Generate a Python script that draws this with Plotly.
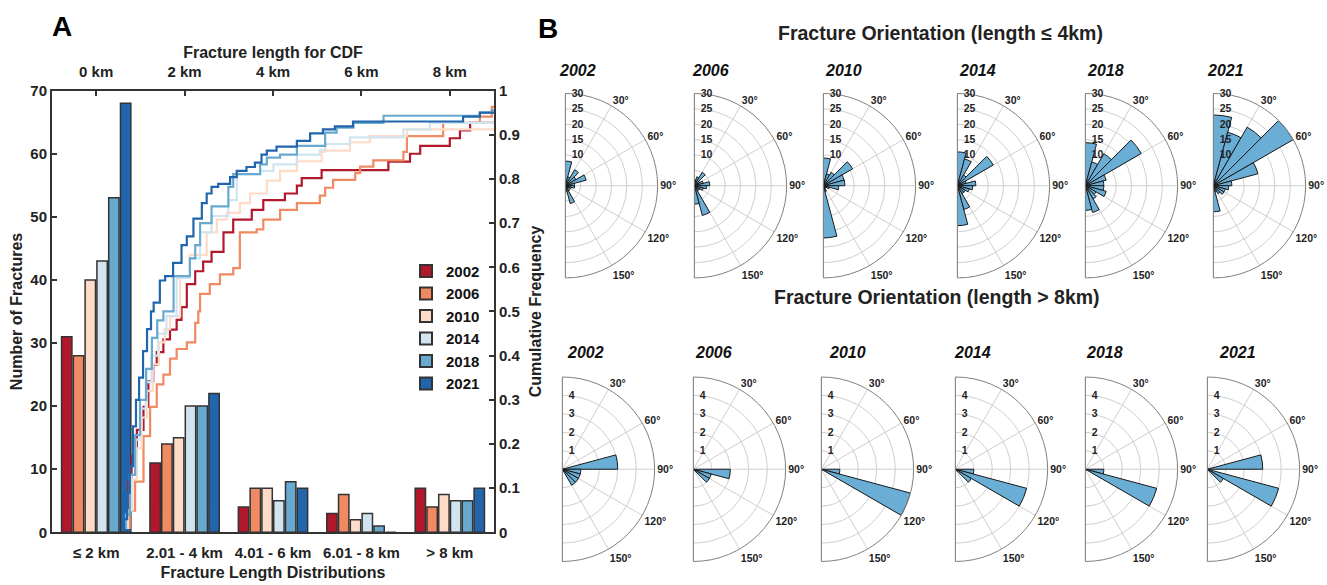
import plotly.graph_objects as go

W, H = 1327, 585
FONT = "Liberation Sans, Arial, sans-serif"

# ---------------- Panel A data ----------------
years = ['2002', '2006', '2010', '2014', '2018', '2021']
colors = ['#b2182b', '#ef8a62', '#fddbc7', '#d1e5f0', '#67a9cf', '#2166ac']
length_bins = ['≤ 2 km', '2.01 - 4 km', '4.01 - 6 km', '6.01 - 8 km', '> 8 km']
counts = {
    '2002': [31, 11, 4, 3, 7],
    '2006': [28, 14, 7, 6, 4],
    '2010': [40, 15, 7, 2, 6],
    '2014': [43, 20, 5, 3, 5],
    '2018': [53, 20, 8, 1, 5],
    '2021': [68, 22, 7, 0, 7],
}

# CDF step breakpoints (length km, cumulative frequency)
cdf_x_2002 = [0.61, 0.73, 0.80, 0.92, 1.07, 1.18, 1.29, 1.37, 1.52, 1.67, 1.82, 1.93, 2.05, 2.24, 2.42, 2.61,
              2.88, 3.10, 3.52, 3.78, 4.27, 4.54, 4.65, 5.10, 6.61, 7.10, 7.33, 8.00, 8.23, 8.46, 9.0]
cdf_y_2002 = [0.01, 0.115, 0.174, 0.232, 0.284, 0.342, 0.379, 0.408, 0.437, 0.459, 0.481, 0.51, 0.562, 0.591,
              0.613, 0.635, 0.679, 0.708, 0.730, 0.752, 0.767, 0.785, 0.802, 0.820, 0.839, 0.857, 0.875, 0.892,
              0.910, 0.927, 0.927]
cdf_x_2006 = [0.73, 0.76, 0.88, 1.07, 1.22, 1.37, 1.52, 1.67, 1.82, 2.05, 2.24, 2.31, 2.35, 2.57, 2.80, 3.10,
              3.25, 3.63, 3.78, 4.16, 4.54, 5.06, 5.18, 5.36, 5.86, 5.97, 6.27, 6.95, 7.03, 7.85, 8.68, 8.95, 9.0]
cdf_y_2006 = [0.01, 0.049, 0.115, 0.218, 0.284, 0.335, 0.357, 0.393, 0.415, 0.43, 0.474, 0.50, 0.54, 0.562,
              0.584, 0.598, 0.679, 0.686, 0.708, 0.730, 0.745, 0.762, 0.78, 0.798, 0.813, 0.828, 0.842, 0.861,
              0.897, 0.927, 0.941, 0.963, 0.963]
cdf_x_2010 = [0.65, 0.72, 0.82, 0.92, 1.03, 1.15, 1.28, 1.42, 1.55, 1.67, 1.90, 2.12, 2.50, 2.73, 2.95, 3.25,
              3.48, 3.86, 4.16, 4.54, 5.10, 5.18, 5.74, 6.19, 7.03, 9.0]
cdf_y_2010 = [0.01, 0.05, 0.12, 0.19, 0.26, 0.32, 0.38, 0.43, 0.46, 0.489, 0.576, 0.628, 0.679, 0.708, 0.723,
              0.745, 0.767, 0.796, 0.818, 0.840, 0.861, 0.864, 0.883, 0.897, 0.912, 0.912]
cdf_x_2014 = [0.63, 0.70, 0.80, 0.90, 1.00, 1.12, 1.25, 1.40, 1.59, 1.82, 2.12, 2.35, 2.61, 2.99, 3.18, 3.71,
              4.01, 4.54, 5.06, 5.18, 5.74, 6.95, 7.55, 9.0]
cdf_y_2014 = [0.01, 0.05, 0.13, 0.21, 0.28, 0.34, 0.40, 0.45, 0.49, 0.576, 0.62, 0.679, 0.716, 0.752, 0.811,
              0.818, 0.833, 0.855, 0.866, 0.879, 0.894, 0.912, 0.927, 0.927]
cdf_x_2018 = [0.61, 0.67, 0.76, 0.88, 0.99, 1.13, 1.26, 1.38, 1.52, 1.75, 2.12, 2.24, 2.35, 2.61, 2.99, 3.10,
              3.71, 3.86, 4.16, 4.54, 5.18, 5.44, 5.82, 6.50, 8.68, 8.95, 9.0]
cdf_y_2018 = [0.01, 0.04, 0.13, 0.22, 0.30, 0.37, 0.44, 0.48, 0.50, 0.58, 0.62, 0.65, 0.70, 0.738, 0.782,
              0.811, 0.833, 0.848, 0.855, 0.875, 0.905, 0.916, 0.927, 0.943, 0.950, 0.956, 0.956]
cdf_x_2021 = [0.58, 0.63, 0.70, 0.76, 0.83, 0.90, 0.97, 1.06, 1.15, 1.24, 1.30, 1.44, 1.56, 1.74, 1.93, 2.05,
              2.20, 2.39, 2.50, 2.61, 2.76, 3.03, 3.18, 3.40, 3.59, 3.74, 3.86, 4.08, 4.54, 4.84, 5.13, 5.40,
              5.81, 8.30, 8.68, 9.0]
cdf_y_2021 = [0.01, 0.03, 0.09, 0.15, 0.24, 0.30, 0.35, 0.41, 0.46, 0.50, 0.52, 0.57, 0.58, 0.61, 0.65, 0.67,
              0.71, 0.745, 0.767, 0.782, 0.789, 0.804, 0.818, 0.827, 0.837, 0.855, 0.864, 0.873, 0.886, 0.903,
              0.912, 0.919, 0.930, 0.941, 0.950, 0.950]
cdf_x = {'2002': cdf_x_2002, '2006': cdf_x_2006, '2010': cdf_x_2010,
         '2014': cdf_x_2014, '2018': cdf_x_2018, '2021': cdf_x_2021}
cdf_y = {'2002': cdf_y_2002, '2006': cdf_y_2006, '2010': cdf_y_2010,
         '2014': cdf_y_2014, '2018': cdf_y_2018, '2021': cdf_y_2021}

km_ticks = [0, 2, 4, 6, 8]
km_labels = ['0 km', '2 km', '4 km', '6 km', '8 km']

# ---------------- Panel B data (15 degree bins) ----------------
theta_bins = [7.5, 22.5, 37.5, 52.5, 67.5, 82.5, 97.5, 112.5, 127.5, 142.5, 157.5, 172.5]
rose_short = {
    '2002': [8, 3, 6, 4, 7, 3, 3, 2, 1, 2, 6, 2],
    '2006': [2, 3, 5, 2, 3, 5, 4, 3, 2, 2, 10, 6],
    '2010': [9, 4, 5, 11, 7, 7, 5, 2, 1, 1, 2, 17],
    '2014': [11, 9, 4, 13.5, 3, 6, 5, 4, 3, 3, 8, 13],
    '2018': [14, 8, 12, 21, 7, 6, 6, 7, 4, 5, 9, 8],
    '2021': [23, 18, 22, 30, 15, 6, 5, 4, 4, 3, 2, 8.5],
}
rose_long = {
    '2002': [0, 0, 0, 0, 0, 3, 1, 1, 1, 1, 0, 0],
    '2006': [0, 0, 0, 0, 0, 0, 2, 1, 1, 0, 0, 0],
    '2010': [0, 0, 0, 0, 0, 0, 1, 5, 0, 0, 0, 0],
    '2014': [0, 0, 0, 0, 0, 0, 1, 4, 1, 0, 0, 0],
    '2018': [0, 0, 0, 0, 0, 0, 1, 4, 0, 0, 0, 0],
    '2021': [0, 0, 0, 0, 0, 3, 0, 4, 1, 0, 0, 0],
}
short_rticks = [5, 10, 15, 20, 25, 30]
short_rlabels = ['', '10', '15', '20', '25', '30']
long_rticks = [1, 2, 3, 4, 5]
long_rlabels = ['1', '2', '3', '4', '']
ang_ticks = [0, 30, 60, 90, 120, 150, 180]
ang_labels = ['', '30°', '60°', '90°', '120°', '150°', '']

# ---------------- layout geometry (pixels) ----------------
top_cx = [564, 693, 822, 956, 1084, 1212]
bot_cx = [561, 692, 820, 954, 1084, 1206]
top_cy, bot_cy, R = 182, 474, 95
top_title_x = [577, 710, 843, 977, 1105, 1225]
bot_title_x = [585, 713, 847, 973, 1104, 1237]


def px(x):
    return x / W


def py(y):
    return 1 - y / H


fig = go.Figure()

for yr, c in zip(years, colors):
    fig.add_trace(go.Bar(x=length_bins, y=counts[yr], name=f'<b>{yr}</b>',
                         marker=dict(color=c, line=dict(color='#333333', width=1.5)),
                         xaxis='x', yaxis='y'))

for yr, c in zip(years, colors):
    fig.add_trace(go.Scatter(x=cdf_x[yr], y=cdf_y[yr], mode='lines', line=dict(color=c, width=2.2, shape='hv'),
                             xaxis='x2', yaxis='y2', showlegend=False, hoverinfo='skip'))

NB = '\u00a0'
polar_layouts = {}
k = 1
for row, (data, rng, rt, rl, cxs, cy) in enumerate([
        (rose_short, 30, short_rticks, short_rlabels, top_cx, top_cy),
        (rose_long, 5, long_rticks, long_rlabels, bot_cx, bot_cy)]):
    for i, yr in enumerate(years):
        name = 'polar' if k == 1 else f'polar{k}'
        fig.add_trace(go.Barpolar(r=data[yr], theta=theta_bins, width=15, subplot=name, showlegend=False,
                                  marker=dict(color='#6aaed6', line=dict(color='#1a1a1a', width=1))))
        cx = cxs[i]
        polar_layouts[name] = dict(
            domain=dict(x=[px(cx), px(cx + R)], y=[py(cy + R), py(cy - R)]),
            sector=[-90, 90], bgcolor='white',
            angularaxis=dict(rotation=90, direction='clockwise', tickvals=ang_ticks,
                             ticktext=[f'<b>{t}</b>' if t else '' for t in ang_labels],
                             showgrid=True, gridcolor='#cfcfcf', gridwidth=1, showline=True, linecolor='#808080',
                             linewidth=1, ticks='', tickfont=dict(size=10.5, color='#222', family=FONT)),
            radialaxis=dict(range=[0, rng], tickvals=rt,
                            ticktext=[f'{NB}{NB}<b>{t}</b>' if t else '' for t in rl],
                            angle=90, side='clockwise', showline=False, ticks='', gridcolor='#cfcfcf',
                            tickfont=dict(size=10.5, color='#222', family=FONT), tickangle=90),
        )
        k += 1

axis_common = dict(showline=True, linecolor='#333333', linewidth=2, showgrid=False, zeroline=False,
                   tickfont=dict(size=15, color='#222', family=FONT))

annotations = [
    dict(x=px(62), y=py(18), text='<b>A</b>', font=dict(size=28, color='black', family=FONT)),
    dict(x=px(548), y=py(20), text='<b>B</b>', font=dict(size=28, color='black', family=FONT)),
    dict(x=px(940), y=py(25), text='<b>Fracture Orientation (length ≤ 4km)</b>', font=dict(size=19.5, color='#222', family=FONT)),
    dict(x=px(937), y=py(297), text='<b>Fracture Orientation (length > 8km)</b>', font=dict(size=19.5, color='#222', family=FONT)),
]
for i, yr in enumerate(years):
    annotations.append(dict(x=px(top_title_x[i]), y=py(63), text=f'<b><i>{yr}</i></b>', font=dict(size=16, color='#111', family=FONT)))
    annotations.append(dict(x=px(bot_title_x[i]), y=py(354), text=f'<b><i>{yr}</i></b>', font=dict(size=16, color='#111', family=FONT)))
for a in annotations:
    a.update(xref='paper', yref='paper', showarrow=False, xanchor='center', yanchor='middle')

fig.update_layout(
    width=W, height=H, margin=dict(l=0, r=0, t=0, b=0),
    paper_bgcolor='white', plot_bgcolor='white',
    font=dict(family=FONT, color='#222'),
    barmode='group', bargap=0.2, bargroupgap=0.12,
    xaxis=dict(axis_common, domain=[px(52), px(494)], ticks='', anchor='y', ticklabelstandoff=6,
               tickvals=length_bins, ticktext=[f'<b>{t}</b>' for t in length_bins],
               title=dict(text='<b>Fracture Length Distributions</b>', font=dict(size=16, family=FONT), standoff=6)),
    yaxis=dict(axis_common, domain=[py(539), py(84)], range=[0, 70], tickvals=[0, 10, 20, 30, 40, 50, 60, 70],
               ticktext=[f'<b>{v}</b>' for v in [0, 10, 20, 30, 40, 50, 60, 70]],
               ticks='inside', ticklen=5, tickwidth=2, tickcolor='#333', anchor='x',
               title=dict(text='<b>Number of Fractures</b>', font=dict(size=16, family=FONT), standoff=4)),
    xaxis2=dict(axis_common, domain=[px(52), px(494)], overlaying='x', side='top', anchor='y', range=[-1, 9],
                tickvals=km_ticks, ticktext=[f'<b>{t}</b>' for t in km_labels], ticklabelstandoff=6,
                ticks='inside', ticklen=5, tickwidth=2, tickcolor='#333',
                title=dict(text='<b>Fracture length for CDF</b>', font=dict(size=16, family=FONT), standoff=0)),
    yaxis2=dict(axis_common, domain=[py(539), py(84)], overlaying='y', side='right', anchor='x', range=[0, 1],
                tickvals=[0, 0.1, 0.2, 0.3, 0.4, 0.5, 0.6, 0.7, 0.8, 0.9, 1],
                ticktext=[f'<b>{t}</b>' for t in ['0', '0.1', '0.2', '0.3', '0.4', '0.5', '0.6', '0.7', '0.8', '0.9', '1']],
                ticks='inside', ticklen=5, tickwidth=2, tickcolor='#333',
                title=dict(text='<b>Cumulative Frequency</b>', font=dict(size=16, family=FONT), standoff=10)),
    legend=dict(x=px(406), y=py(253), xanchor='left', yanchor='top', bgcolor='rgba(0,0,0,0)',
                font=dict(size=15, family=FONT, color='#111'), tracegroupgap=0, itemsizing='constant'),
    annotations=annotations,
    **polar_layouts,
)

fig.write_html('out.html')
